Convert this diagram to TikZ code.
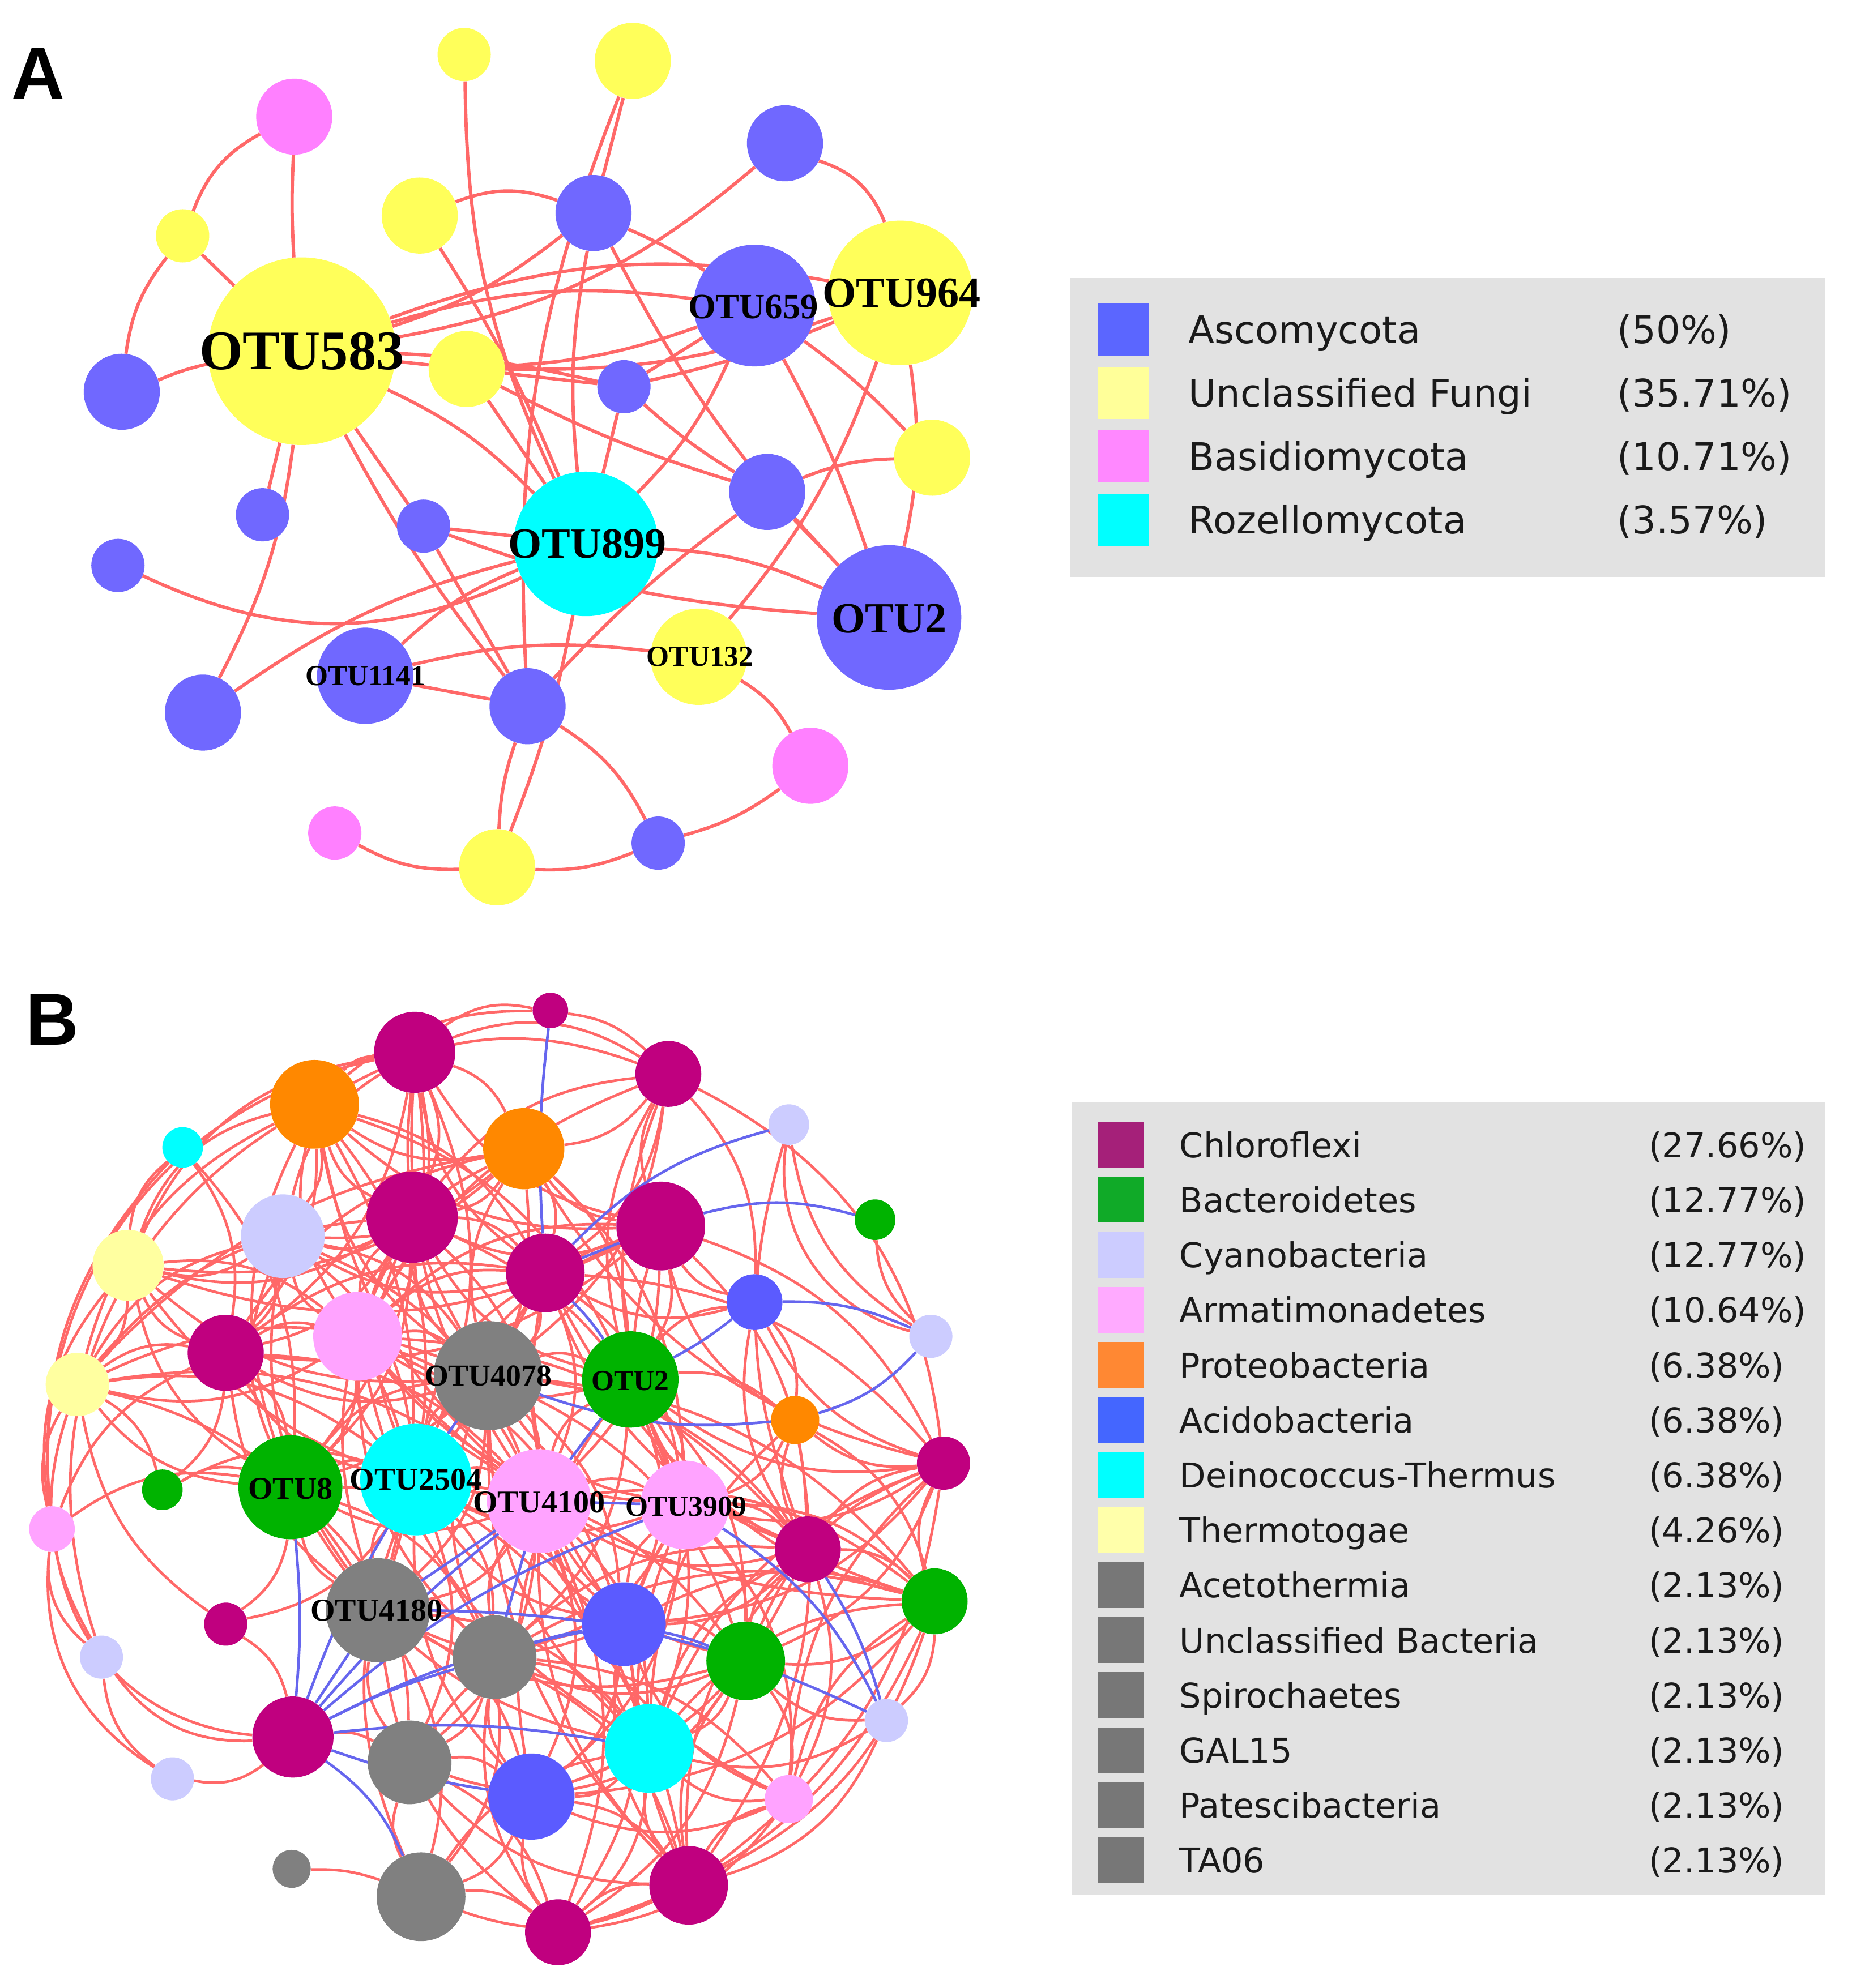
\documentclass[tikz,border=0pt]{standalone}
\usepackage{fontspec}
\setmainfont{Liberation Serif}
\newfontfamily\legfont{DejaVu Sans}
\newfontfamily\panfont{Liberation Sans}
\pgfdeclarelayer{bglayer}
\pgfdeclarelayer{edgelayer}
\pgfsetlayers{bglayer,edgelayer,main}
\definecolor{cAsc}{HTML}{7068FF}
\definecolor{cUnf}{HTML}{FFFF5A}
\definecolor{cBas}{HTML}{FF80FF}
\definecolor{cRoz}{HTML}{00FFFF}
\definecolor{cChl}{HTML}{C0007F}
\definecolor{cBac}{HTML}{00B300}
\definecolor{cCya}{HTML}{CCCCFF}
\definecolor{cArm}{HTML}{FFA3FF}
\definecolor{cPro}{HTML}{FF8800}
\definecolor{cAci}{HTML}{5B5BFF}
\definecolor{cDei}{HTML}{00FFFF}
\definecolor{cThe}{HTML}{FFFFA0}
\definecolor{cGra}{HTML}{808080}
\definecolor{eRed}{HTML}{FF6868}
\definecolor{eBlue}{HTML}{6666EE}
\definecolor{legBg}{HTML}{E2E2E2}
\definecolor{sAsc}{HTML}{5B66FF}
\definecolor{sUnf}{HTML}{FFFF99}
\definecolor{sBas}{HTML}{FF88FF}
\definecolor{sChl}{HTML}{A52079}
\definecolor{sBac}{HTML}{10AA28}
\definecolor{sArm}{HTML}{FFAAFF}
\definecolor{sPro}{HTML}{FF8833}
\definecolor{sAci}{HTML}{4466FF}
\definecolor{sThe}{HTML}{FFFFAA}
\definecolor{sGra}{HTML}{777777}
\definecolor{legTxt}{HTML}{1A1A1A}
\tikzset{
  otu/.style={circle, inner sep=0pt, draw=none, minimum size=#1*2pt},
  redA/.style={draw=eRed, line width=2.6pt},
  redB/.style={draw=eRed, line width=2.1pt},
  blueB/.style={draw=eBlue, line width=2.1pt},
  labA/.style={font=\bfseries\fontsize{#1}{#1}\selectfont, inner sep=0pt, text=black},
  panlab/.style={font=\panfont\bfseries\fontsize{58}{58}\selectfont, inner sep=0pt},
  legboxstyle/.style={fill=legBg, draw=none, inner sep=0pt, anchor=north west},
  swA/.style={minimum width=40pt, minimum height=41pt, inner sep=0pt, draw=none},
  swB/.style={minimum width=36pt, minimum height=36pt, inner sep=0pt, draw=none},
  legA/.style={font=\legfont\fontsize{30}{30}\selectfont, inner sep=0pt, text=legTxt, anchor=base west},
  legB/.style={font=\legfont\fontsize{27}{27}\selectfont, inner sep=0pt, text=legTxt, anchor=base west}
}
\begin{document}
\begin{tikzpicture}[x=1pt,y=1pt]
\begin{pgfonlayer}{bglayer}
\fill[white] (0,0) rectangle (1460,-1568);
\end{pgfonlayer}
\useasboundingbox (0,0) rectangle (1460,-1568);

% ---------------- Panel A ----------------
\node[panlab, anchor=base west] (labelA) at (9,-78) {A};
\foreach \n/\x/\y/\r/\c in {
 f1/232/92/30/cBas, f2/366/43/21/cUnf, f3/499/48/30/cUnf, f4/619/113/30/cAsc,
 f5/144/186/21/cUnf, f6/331/170/30/cUnf, f7/468/168/30/cAsc, f8/238/277/74/cUnf,
 f9/595/241/48/cAsc, f10/710/231/57/cUnf, f11/96/309/30/cAsc, f12/368/291/30/cUnf,
 f13/492/305/21/cAsc, f14/735/361/30/cUnf, f15/207/406/21/cAsc, f16/334/415/21/cAsc,
 f17/462/429/57/cRoz, f18/605/388/30/cAsc, f19/93/446/21/cAsc, f20/701/487/57/cAsc,
 f21/551/518/38/cUnf, f22/288/533/38/cAsc, f23/416/557/30/cAsc, f24/160/562/30/cAsc,
 f25/639/604/30/cBas, f26/264/657/21/cBas, f27/392/684/30/cUnf, f28/519/665/21/cAsc}
 {\node[otu=\r, fill=\c] (\n) at (\x,-\y) {};}

\node[labA=44] (t583) at (238,-277) {OTU583};
\node[labA=28] (t659) at (594,-242) {OTU659};
\node[labA=34] (t964) at (711,-231) {OTU964};
\node[labA=34] (t899) at (463,-429) {OTU899};
\node[labA=34] (t2a) at (701,-488) {OTU2};
\node[labA=23] (t132) at (552,-518) {OTU132};
\node[labA=23] (t1141) at (288,-533) {OTU1141};

\begin{pgfonlayer}{edgelayer}
\foreach \u/\v/\b in {
 f1/f5/-20, f5/f11/-15, f1/f8/-3, f5/f8/0, f11/f8/5, f2/f17/-12, f3/f7/0, f3/f23/-12,
 f4/f10/25, f4/f8/15, f6/f7/20, f6/f17/5, f7/f9/5, f7/f20/-8, f8/f7/-10, f7/f17/-8,
 f8/f9/12, f8/f10/15, f8/f12/0, f8/f13/5, f8/f15/0, f8/f16/0, f8/f17/10, f8/f23/-5,
 f8/f24/10, f12/f13/0, f12/f9/-8, f12/f10/-10, f13/f10/-5, f13/f18/-5, f13/f17/0,
 f9/f13/0, f9/f20/5, f9/f14/5, f10/f20/10, f21/f10/-10, f16/f17/0, f16/f23/0,
 f19/f17/-25, f22/f17/10, f22/f21/10, f22/f23/0, f24/f17/10, f26/f27/-15,
 f27/f28/-12, f28/f25/-10, f25/f21/-15, f27/f23/8, f27/f17/-5, f23/f28/15,
 f23/f18/5, f17/f20/10, f16/f20/-8, f18/f20/0, f18/f14/10, f17/f9/-10, f12/f17/0,
 f12/f18/-5}
 {\draw[redA] (\u) to[bend left=\b] (\v);}
\end{pgfonlayer}

% legend A
\node[legboxstyle, minimum width=595pt, minimum height=236pt] (legboxA) at (844,-219) {};
\foreach \i/\c/\t/\p in {1/sAsc/Ascomycota/(50\%), 2/sUnf/Unclassified Fungi/(35.71\%),
  3/sBas/Basidiomycota/(10.71\%), 4/cRoz/Rozellomycota/(3.57\%)}
{
 \node[swA, fill=\c] (swA\i) at (886,{-260-50*(\i-1)}) {};
 \node[legA] (ltA\i) at (937,{-271-50*(\i-1)}) {\t};
 \node[legA] (lpA\i) at (1275,{-271-50*(\i-1)}) {\p};
}

% ---------------- Panel B ----------------
\node[panlab, anchor=base west] (labelB) at (20,-824) {B};
\foreach \n/\x/\y/\r/\c in {
 c1/434/797/14/cChl, c2/327/830/32/cChl, c3/527/847/26/cChl, c4/325/960/36/cChl,
 c5/521/967/35/cChl, c6/430/1004/31/cChl, c7/178/1067/30/cChl, c8/744/1154/21/cChl,
 c9/637/1222/26/cChl, c10/178/1281/17/cChl, c11/231/1370/32/cChl, c12/543/1487/31/cChl,
 c13/440/1524/26/cChl,
 g1/690/962/16/cBac, g2/497/1088/38/cBac, g3/128/1175/16/cBac, g4/229/1173/41/cBac,
 g5/737/1263/26/cBac, g6/588/1310/31/cBac,
 y1/622/887/16/cCya, y2/223/975/33/cCya, y3/734/1054/17/cCya, y4/80/1307/17/cCya,
 y5/699/1357/17/cCya, y6/136/1403/17/cCya,
 a1/282/1054/35/cArm, a2/41/1206/18/cArm, a3/425/1184/41/cArm, a4/540/1187/35/cArm,
 a5/622/1419/19/cArm,
 p1/248/871/35/cPro, p2/413/906/32/cPro, p3/627/1120/19/cPro,
 b1/595/1027/22/cAci, b2/492/1281/33/cAci, b3/419/1417/34/cAci,
 d1/144/905/16/cDei, d2/328/1167/44/cDei, d3/512/1379/35/cDei,
 t1/101/998/28/cThe, t2/61/1092/25/cThe,
 r1/385/1085/43/cGra, r2/298/1270/41/cGra, r3/390/1307/33/cGra, r4/323/1390/33/cGra,
 r5/230/1474/15/cGra, r6/332/1496/35/cGra}
 {\node[otu=\r, fill=\c] (\n) at (\x,-\y) {};}

\node[labA=24] (t4078) at (385,-1085) {OTU4078};
\node[labA=23] (t2b) at (497,-1089) {OTU2};
\node[labA=25] (t8) at (229,-1174) {OTU8};
\node[labA=25] (t2504) at (328,-1167) {OTU2504};
\node[labA=25] (t4100) at (425,-1185) {OTU4100};
\node[labA=23] (t3909) at (541,-1188) {OTU3909};
\node[labA=25] (t4180) at (297,-1270) {OTU4180};

\begin{pgfonlayer}{edgelayer}
\foreach \u/\v/\b in {
 p1/c2/22, p1/c4/-22, p1/c6/22, p1/p2/-22, p1/y2/22, p1/a1/-22, p1/c7/22, p1/t1/-28,
 p1/t2/-24, p1/r1/-22, p1/g2/22, p1/c5/-22, p1/c3/24, p1/d2/22, p1/a3/-18,
 c2/c4/22, c2/c6/-22, c2/p2/22, c2/c3/26, c2/c5/-22, c2/y2/-22, c2/a1/22, c2/r1/-18,
 c2/g4/22, c2/t1/-28, c2/c7/22, c2/a3/-18, c2/c1/24,
 c3/p2/22, c3/c5/-22, c3/c6/22, c3/c4/-22, c3/r1/22, c3/g2/-22, c3/b1/22, c3/c8/28,
 c3/c1/-18, c3/a1/-18,
 p2/c4/22, p2/c5/-22, p2/c6/22, p2/a1/-22, p2/y2/22, p2/r1/-22, p2/g2/22, p2/c7/-22,
 p2/t1/22, p2/t2/-18, p2/d2/22,
 c4/y2/22, c4/a1/-22, c4/c6/22, c4/c5/-22, c4/c7/22, c4/r1/-22, c4/g4/22, c4/d2/-22,
 c4/t1/22, c4/t2/-22, c4/a3/22, c4/g2/-22,
 c5/g2/22, c5/b1/-22, c5/c8/22, c5/r1/-22, c5/a3/22, c5/a4/-22, c5/c9/22, c5/p3/-22,
 c5/c7/22, c5/a1/-22,
 c6/r1/22, c6/a1/-22, c6/y2/22, c6/c7/-22, c6/a3/22, c6/d2/-22, c6/a4/22,
 y2/t1/22, y2/t2/-22, y2/c7/22, y2/a1/-22, y2/r1/22, y2/g4/-22, y2/d2/22,
 t1/t2/22, t1/c7/-22, t1/a1/22, t1/g4/-22, t1/a2/-24, t1/r1/-22, t1/d1/22, t1/c5/-22,
 t2/c7/22, t2/a1/-22, t2/r1/22, t2/g4/-22, t2/d2/22, t2/a2/-22, t2/y4/-24, t2/c10/-22,
 t2/a3/22,
 c7/a1/22, c7/r1/-22, c7/g4/22, c7/d2/-22, c7/a3/22, c7/r2/-22, c7/g3/22, c7/a2/-22,
 a1/r1/22, a1/g2/-22, a1/g4/22, a1/d2/-22, a1/a3/22, a1/a4/-22, a1/r2/22, a1/r3/-22,
 a1/b2/22,
 r1/g2/22, r1/d2/-22, r1/a3/22, r1/a4/-22, r1/r2/22, r1/r3/-22, r1/b2/22, r1/g4/-22,
 r1/c9/22, r1/d3/-22,
 g2/a4/22, g2/a3/-22, g2/b2/22, g2/c9/-22, g2/p3/22, g2/c8/-22, g2/g6/22, g2/g5/-22,
 g2/r3/22,
 g4/d2/22, g4/r2/-22, g4/r3/22, g4/a3/-22, g4/c10/22, g4/g3/-22, g4/r4/22, g4/a2/-22,
 d2/a3/22, d2/r2/-22, d2/r3/22, d2/b2/-22, d2/r4/22, d2/b3/-22, d2/d3/22, d2/r6/-22,
 d2/c12/22,
 a3/a4/22, a3/b2/-22, a3/r2/22, a3/r3/-22, a3/d3/22, a3/g6/-22, a3/b3/22, a3/c9/-22,
 a3/r4/22, a3/c12/-22, a3/c13/22,
 a4/c9/22, a4/b2/-22, a4/g6/22, a4/d3/-22, a4/g5/22, a4/c8/-22, a4/a5/22, a4/c12/-22,
 a4/b3/22,
 c9/g5/22, c9/g6/-22, c9/c8/22, c9/d3/-22, c9/a5/22, c9/c12/-22, c9/b2/22,
 r2/r3/22, r2/r4/-22, r2/b3/22, r2/b2/-22, r2/r6/22, r2/c13/-22, r2/d3/22,
 r3/r4/22, r3/b3/-22, r3/d3/22, r3/g6/-22, r3/r6/22, r3/c13/-22, r3/c12/22,
 b2/g6/22, b2/d3/-22, b2/b3/22, b2/c12/-22, b2/c13/22, b2/a5/-22, b2/g5/22, b2/r4/-22,
 g6/d3/22, g6/g5/-22, g6/a5/22, g6/c12/-22, g6/c8/22, g6/y5/-22, g6/b3/22,
 d3/b3/22, d3/c12/-22, d3/c13/22, d3/a5/-22, d3/r4/22, d3/r6/-22, d3/g5/22, d3/y5/-22,
 r4/b3/22, r4/r6/-22, r4/c13/22, r4/c12/-22,
 b3/r6/22, b3/c13/-22, b3/c12/22, b3/a5/-22,
 r6/c13/22, r6/c12/-22, r6/r5/-10,
 c13/c12/22, c13/a5/-22, c13/g5/-24,
 c12/a5/22, c12/g5/-22, c12/y5/-24,
 c8/p3/22, c8/g5/-22, c8/b1/22, c8/d3/-22, c8/c12/22, c8/a5/-22, c8/g6/22, c8/p2/22,
 c8/c6/-22,
 g5/y5/22, g5/a5/-22, g5/b3/22, g5/r3/-22,
 b1/c6/22, b1/g2/-22, b1/p3/22, b1/c9/-22,
 p3/g5/22, p3/c9/-22, p3/a4/22, p3/d3/-22, p3/c12/22,
 p1/r2/22, p1/g4/-22, c2/d2/22, c4/r2/-22, c4/a4/22, c5/d2/-22, c6/g4/22, c6/b2/-22,
 y2/a3/22, y2/r2/-22, a1/c9/22, a1/d3/-22, r1/g6/22, r1/c12/-22, g2/d3/22, g2/b3/-22,
 g4/b2/22, g4/d3/-22, d2/g6/22, d2/a4/-22, a3/g5/22, a3/a5/-22, a4/r3/22, c9/r3/-22,
 c9/b3/22, r2/g6/-22, r3/a5/22, b2/c8/-22, g6/c13/22, t1/a3/-22, t2/r2/22, c3/a4/-22,
 p2/a4/22, c6/c9/-22, g5/c6/22, g5/r1/-22, g5/a1/22,
 c1/p1/-20, d1/c7/22, d1/a2/-24, d1/g4/22, a2/y4/-28, a2/y6/-32, a2/c11/-38,
 y4/y6/-24, y4/c11/-28, y6/c11/-24, g3/d2/22, g3/t2/-22, c10/c11/22, c10/d2/-22,
 g1/y3/-22, y1/y3/-25, y1/y3/-42, y1/c9/-18, c2/a2/-42, p1/y4/-38, c11/r4/18}
 {\draw[redB] (\u) to[bend left=\b] (\v);}
\foreach \u/\v/\b in {
 c1/c6/-5, c6/g2/5, c6/y1/15, c6/c5/0, c5/g1/15, b1/y3/12, b1/g2/5, p3/y3/-15,
 r1/p3/-12, g2/a3/0, r1/d2/0, a3/a4/0, a4/y5/15, c9/y5/8, b2/g6/5, r3/b2/5,
 r2/y5/12, c11/g4/-5, c11/d2/5, c11/r2/0, c11/r3/5, c11/b2/8, c11/a3/5, c11/a4/10,
 c11/b3/-5, c11/r6/15, c11/d3/8, r2/a3/0, r3/a3/0}
 {\draw[blueB] (\u) to[bend left=\b] (\v);}
\end{pgfonlayer}

% legend B
\node[legboxstyle, minimum width=594pt, minimum height=625pt] (legboxB) at (845,-869) {};
\foreach \i/\c/\t/\p in {1/sChl/Chloroflexi/(27.66\%), 2/sBac/Bacteroidetes/(12.77\%),
 3/cCya/Cyanobacteria/(12.77\%), 4/sArm/Armatimonadetes/(10.64\%),
 5/sPro/Proteobacteria/(6.38\%), 6/sAci/Acidobacteria/(6.38\%),
 7/cDei/Deinococcus-Thermus/(6.38\%), 8/sThe/Thermotogae/(4.26\%),
 9/sGra/Acetothermia/(2.13\%), 10/sGra/Unclassified Bacteria/(2.13\%),
 11/sGra/Spirochaetes/(2.13\%), 12/sGra/GAL15/(2.13\%),
 13/sGra/Patescibacteria/(2.13\%), 14/sGra/TA06/(2.13\%)}
{
 \node[swB, fill=\c] (swB\i) at (884,{-903-43.4*(\i-1)}) {};
 \node[legB] (ltB\i) at (930,{-913-43.4*(\i-1)}) {\t};
 \node[legB] (lpB\i) at (1300,{-913-43.4*(\i-1)}) {\p};
}
\end{tikzpicture}
\end{document}
